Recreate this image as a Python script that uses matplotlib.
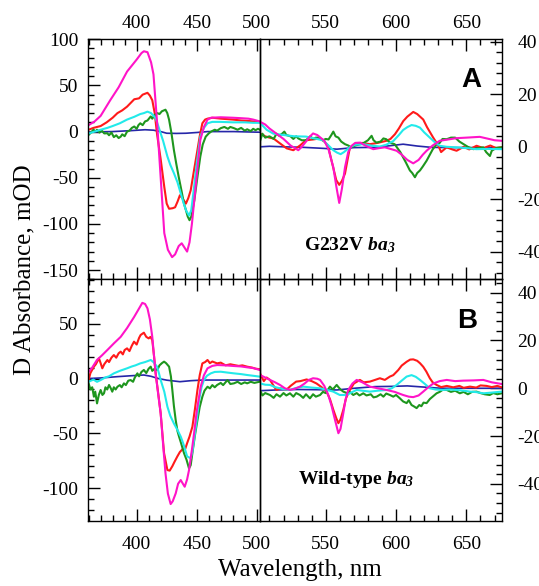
import matplotlib
matplotlib.use('Agg')
import matplotlib.pyplot as plt
from matplotlib.ticker import MultipleLocator

plt.rcParams['font.family'] = 'Liberation Serif'
plt.rcParams['axes.unicode_minus'] = False
plt.rcParams['mathtext.fontset'] = 'custom'
plt.rcParams['mathtext.rm'] = 'Liberation Serif'
plt.rcParams['mathtext.it'] = 'Liberation Serif:italic'
plt.rcParams['mathtext.bf'] = 'Liberation Serif:bold'
plt.rcParams['mathtext.bfit'] = 'Liberation Serif:italic:bold'

# colours of the five traces
c_mag = '#ff14c8'
c_red = '#ff1a1a'
c_cyan = '#22eaea'
c_green = '#1e961e'
c_blue = '#2626a8'

# ---------------- panel A (G232V), Soret region, left axis (mOD) ----------------
magenta_A_soret = [(360,7),(365,11),(370,17),(378,34),(385,48),(392,65),(400,78),(404,85),(406,87),(409,86),
                   (412,75),(414,62),(417,10),(420,-50),(423,-110),(426,-128),(429.5,-136),(432,-133),(435,-124),
                   (437.5,-121),(440,-126),(442,-130),(444,-120),(446,-100),(448,-74),(451,-35),(453,-9),(456,5),
                   (459,13),(462,15),(470,15.5),(480,15),(487,14.5),(493,14),(497,13),(502.5,11)]
red_A_soret = [(360,2),(364,4),(370,6),(375,10),(380,15),(384,20),(388,23),(392,27),(395,31),(398,35),(402,36),
               (405,40),(409,42),(411,39),(413,34),(415,20),(417,-3),(420,-30),(423,-60),(425,-78),(427,-83.6),
               (430,-83),(432,-82),(434,-76),(436,-69),(438,-72),(441,-78),(443,-72),(445,-63.6),(448,-40),
               (450.6,-20),(452.5,-5),(454.7,9),(457,13),(459,14),(463,15),(470,14),(480,13),(487,12),(493,11.5),
               (497,11),(502.5,10)]
cyan_A_soret = [(360,-2),(365,0),(370,2),(375.6,4),(380,6),(386,9),(392,13),(398,16),(403,19),(406,20),(409,21.6),
                (412,20),(415.8,14.6),(418,6),(420,-2),(422,-10),(425.6,-27),(428,-36),(431,-45),(434,-55),
                (436.7,-67),(439,-77),(441,-85),(443.6,-91),(445.5,-85),(447.8,-60),(450,-35),(453,-5.5),(456,4),
                (459,9),(463,10.5),(470,10.5),(480,10),(490,10),(497,9.5),(502.5,9.5)]
green_A_soret = [(360,-3.6),(362,-1),(364,2),(366,0),(367,2),(369,-1),(371,1),(373,-2),(375.6,-1.8),(377,-4),
                 (379,-1),(381,-6),(383,-4),(385,-7),(386.7,-5.5),(388,-3),(390,-5),(392,0),(394,1),(396,4),
                 (398,5.5),(400,3),(401.5,7),(403,9),(405,7),(407,11),(409,12),(411.7,16.4),(413,14),(415,18),
                 (417.2,20),(419,19),(421,22),(424,23.7),(425.5,20),(427,12.8),(429,-2),(431,-20),(433,-35),
                 (435,-49),(437,-62),(439.4,-78),(441,-85),(442.5,-92),(444,-96),(445.5,-92),(448,-74.5),
                 (450.5,-50),(453,-27),(455,-14),(457.5,-5.5),(460,-2),(462,0),(465,2),(467,1),(470,3.7),(473,5),
                 (476,3),(478,5),(481,3.7),(484,2),(487,4),(490,1),(492,2.5),(495,0.5),(497,3),(499,1.5),(501,3),
                 (502.5,2)]
blue_A_soret = [(360,-0.5),(380,0),(395,1),(407,2),(414,1.5),(420,0),(425,-1.8),(433,-2),(441,-1.8),(450,-1),
                (459,0),(470,0),(481,0),(490,-0.3),(502.5,-0.7)]

# ---------------- panel A, visible region, right axis ----------------
magenta_A_vis = [(503.5,9.5),(507,8.5),(510,7),(515,5),(520,3),(525,0.5),(530.5,-1.3),(533,0),(536,2),(538,3.5),
                 (541,5.1),(544,4.5),(549,2.3),(552,-1),(555.4,-7.8),(557.5,-15),(559.6,-21.4),(561.5,-16),
                 (563.7,-7.8),(566,-2),(568.4,0.4),(571,1.5),(574.7,1.6),(578,0.5),(583.8,-0.9),(588,-0.5),
                 (592,-0.2),(596,-0.8),(600.4,-1.5),(604,-3),(608,-5),(612.2,-6.3),(616,-5),(619,-3),(621.7,-1.5),
                 (626,0.5),(631,2.3),(637,2.8),(643,3.3),(650,3.5),(659.5,3.8),(666,3),(670,2.5),(675,2.3)]
red_A_vis = [(503.5,5),(507,4),(510,3.5),(512.8,3.2),(517,1.5),(522.3,-0.6),(527,-1.3),(531.7,0.5),(536,2.5),
             (541,2.8),(545.7,3.2),(549,2),(551.6,0.5),(554,-5),(557.5,-12.7),(559.6,-14.5),(561.5,-13),
             (563.7,-10.2),(565.5,-5),(567.2,-0.2),(572,1),(576,1.5),(581.4,1),(587,1.5),(593.3,2.3),(596,3),
             (599.2,4.8),(602,7),(605.1,9.8),(608,11.5),(612.2,13.3),(615,12.5),(619.3,10.4),(622,7.5),
             (626.4,3.5),(630,0.5),(632,-2),(635.9,-0.2),(640,-1),(643,-1.5),(648,0),(652,-1),(657.2,0.4),
             (662,-0.5),(667,0.5),(671,-0.5),(675,-0.2)]
cyan_A_vis = [(503.5,9),(508,6.5),(512.8,5),(520,4.5),(528,4),(536,3.9),(542,3.2),(548,2.5),(552,0.5),
              (555.4,-1.3),(558,-2.2),(560.6,-2.8),(563,-2),(567,-0.2),(571,0.8),(576.7,1),(582,0.5),(588.5,0.1),
              (593,0.8),(598,2.2),(602,4.5),(605,6.4),(608,7.5),(611,8.3),(614,8),(617,7.3),(620,5.5),(624,3.5),
              (627,2),(631,0.4),(636,0),(643,-0.2),(650,-0.5),(657,-0.9),(665,-0.8),(675,-0.9)]
green_A_vis = [(503.5,2.5),(505,5),(507,3.5),(510,4),(513,3),(515,5),(517,4.2),(519,5),(520.6,5.8),(522,4.5),
               (525,4),(527,3),(529,4),(530.5,3.2),(533,2.5),(536,2.5),(539,4),(541,3),(543,3.5),(545,3.5),
               (548,2.5),(550,3),(552,2.8),(554,4.5),(555.4,5.8),(557,4),(559,3.5),(561,2),(563.7,1),(566,0.5),
               (568,-0.2),(571,0.5),(574.7,1),(577,1.5),(580,2.5),(582.6,4.2),(584,2.5),(586,1.6),(589,2),
               (591,3.2),(593,2.9),(596,1.5),(599,1),(601,-0.5),(603,-2),(605,-4),(607,-6),(609.8,-9),(611.5,-10),
               (613.4,-11.6),(615,-10),(617,-9),(619,-7.5),(621.7,-5.3),(624,-3),(626,-1),(628.8,1),(631,1.5),
               (633,3),(636,2.9),(639,3.5),(642,3.5),(645,2),(648,1),(651,0),(655,-0.9),(658,-0.5),(662,-0.2),
               (664,-2),(666.7,-3.5),(668,-1.5),(671,-0.5),(675,-0.2)]
blue_A_vis = [(503.5,0),(510,0.2),(520,0),(534,-0.2),(545,-0.5),(558,-0.9),(570,-0.3),(585,-0.2),(597,0.5),
              (605,1),(615,0.3),(625,-0.2),(640,-0.3),(655,-0.3),(675,-0.5)]

# ---------------- panel B (wild-type), Soret region, left axis ----------------
magenta_B_soret = [(360,6),(363,10),(367,17),(371,21),(375.6,26),(381,32),(386.7,38),(392,46),(397.8,56),(401,62),
                   (404.7,69),(407,68),(409,64),(411,54),(413,38),(414.5,20),(415.8,4.7),(418,-15),(420,-32),
                   (422,-60),(424,-86.5),(426,-105),(428.3,-114.5),(430,-112),(432.5,-104.8),(434.5,-96),
                   (436.7,-92.6),(438.5,-96),(440,-98.7),(442,-92),(443.6,-83.5),(446,-65),(447.8,-50),(450,-30),
                   (453.3,-7.5),(456,3),(459,9.3),(463,11.5),(467,12.3),(474,12),(481,11.4),(487,11),(492,10.2),
                   (497,9.5),(502.5,7.8)]
red_B_soret = [(360,-1.4),(361.5,5),(363,8),(364.4,10.8),(366,13),(368.6,18.4),(370,14),(371.4,9.3),(373,13),
               (375.6,16.9),(377,15),(379,19),(381,21.4),(383,19),(385,23),(386.7,24.5),(388.5,22),(390,26),
               (392,27.5),(394,25),(396,30),(397.8,33.6),(400,31),(402,37),(403.3,39.7),(406,41.8),(408,38),
               (410,36.6),(411.5,38),(413,35),(414.5,20),(415.8,4.7),(418,-14),(420,-31.8),(422.8,-68),
               (425.6,-83.5),(427.5,-84),(429.7,-80),(431.5,-76),(433.9,-71),(436,-67),(438.9,-63.7),(440.5,-64),
               (442,-59),(444,-53),(446.4,-44),(448.5,-28),(450.6,-10.5),(452.5,3),(454.7,13.8),(457,15),
               (459,16.9),(461,14),(463,15.5),(467,13.8),(470,14.5),(474,12),(478,13),(481,12.3),(485,11.5),
               (488,12),(492,10.8),(496,10),(499,9),(502.5,8.4)]
cyan_B_soret = [(360,-2.9),(364,-1),(367,-3),(370,-1.4),(374,1),(377,2),(381,4.7),(386,7),(392,9.3),(396,11),
                (399,12),(403,13.8),(407,15),(411.7,16.9),(414,15),(417,10.8),(418.5,5),(420,-1.4),(423,-12),
                (425.6,-25.7),(428,-34),(431,-41),(434,-47),(436.7,-53),(439,-60),(442,-71),(445,-72.8),
                (446.5,-66),(447.8,-56),(450,-38),(452,-19.6),(454,-8),(456,-1.4),(458.5,2.5),(461.7,4.7),(465,6),
                (470,6.2),(475,5.5),(481,4.7),(487,4),(492,3.2),(497,2.5),(502.5,1.7)]
green_B_soret = [(360,-4.4),(361.5,-10),(363,-8),(364.4,-16.6),(365.5,-12),(367,-22.7),(368.5,-15),(370,-10.5),
                 (371.5,-15),(372.8,-13.5),(374,-8),(375.5,-10),(377,-5.9),(378.5,-9),(379.7,-12),(381,-8),
                 (382.5,-10),(384,-7.5),(386,-6),(387.5,-8),(389.4,-4.4),(391,-6),(393,-2),(395,-1.4),(397,-3),
                 (398.5,1),(400.6,4.7),(402,2),(404,6),(406,7.8),(408,5),(410,9),(411.7,10.8),(413,7),(415,9),
                 (417.2,7.8),(419,12),(421,14),(422.8,15.4),(424.5,14),(427,10.8),(428.5,2),(429.7,-10.5),
                 (431,-25),(432.5,-38),(434,-48),(435.3,-53),(437,-59),(439.4,-68),(441.5,-74),(443.6,-82),
                 (445,-79),(446.4,-68),(448.5,-52),(450.6,-38),(452.5,-26),(454.7,-16.6),(456.5,-11),(459,-7.5),
                 (461,-9),(463,-6),(465,-8),(467,-5.9),(470,-4),(472,-6),(475.6,-1.4),(478,-5),(481,-4.4),(484,-3),
                 (487,-5),(490,-3.5),(492,-4.4),(495,-3),(498,-4),(502.5,-2.9)]
blue_B_soret = [(360,0),(370,0.5),(384,1.7),(395,2.5),(406,3.2),(412,2),(418,0),(425,-1.5),(436,-2.9),(445,-2),
                (455,-1.4),(470,-1.4),(485,-1.4),(502.5,-1.4)]

# ---------------- panel B, visible region, right axis ----------------
magenta_B_vis = [(503.5,5.5),(507,4.5),(510.4,3.5),(514,2.5),(517.5,1.4),(521,0),(524.6,-0.7),(528,-0.2),
                 (531.7,0.7),(535,2),(538,3.5),(541,4.2),(544,4),(546,3.5),(549,1),(551.8,-2.8),(554,-7),
                 (556.6,-13.2),(559,-18.8),(560.5,-17),(562.5,-10.4),(564,-5),(566,-0.7),(569,2),(572,3.5),
                 (576,2.5),(581.4,0.7),(587,0),(593.3,-0.7),(599,-1.5),(605,-2.8),(609,-3.5),(612.2,-3.7),(616,-3),
                 (619.3,-1.4),(623,0.5),(626.4,2),(631,3),(636,3.5),(642,3),(647.7,3.2),(655,3.3),(662,3.5),
                 (668,2.5),(675,1.8)]
red_B_vis = [(503.5,6),(506,3),(508,4.5),(510.4,3.5),(513,1),(515,-0.7),(518,0),(522,-0.7),(525,1),(529,2.8),
             (532,3),(536.4,3.7),(540,3),(543.5,2),(547,0.5),(550.6,-1.4),(553,-4.5),(555.4,-9),(557.5,-12.5),
             (559,-14.6),(560.5,-13),(562.5,-9),(564.5,-4),(567.2,-0.7),(570,2),(574.3,3.5),(577,2.5),(581.4,2.8),
             (585,3.5),(588.5,4.2),(592,3.5),(595.6,4.9),(598,5.5),(601.5,7.6),(604,9.5),(607.5,11.1),(610,12),
             (612.2,12.1),(615,11.5),(617,10.5),(619.3,9),(621.5,7),(624,4.2),(626,2.5),(628.8,1.4),(632,0.5),
             (636,1),(640.6,0.4),(645,1),(648,0.2),(652.5,0.7),(657,0.3),(660,1.2),(664.3,1),(668,0.5),(672,1),
             (675,0.4)]
cyan_B_vis = [(503.5,2),(507,1.5),(510.4,1.4),(514,0.5),(517.5,0),(521,-0.5),(524.6,-0.7),(528,0),(534,0.7),
              (540,0.3),(546,0),(551,-0.7),(555.4,-1.4),(558,-2.2),(560,-2.8),(565,-2.8),(568,-1.8),(572,-0.7),
              (576,-1),(581.4,-1.4),(587,-1),(593.3,-0.7),(597,0),(600.4,1.4),(604,3.2),(607.5,4.9),(611,5.5),
              (614,4.8),(617,3.5),(620.5,1.8),(624,0),(628,-0.5),(633.5,-0.7),(638,-0.5),(643,-0.7),(648,-1),
              (652.5,-1.4),(657,-1.6),(662,-2.1),(668,-1.8),(675,-1.4)]
green_B_vis = [(503.5,-1),(505,-3),(507,-2),(510.4,-2.8),(513,-4),(515,-2.5),(517.5,-3.5),(520,-2),(522,-3),
               (524.6,-2.1),(527,-3.5),(529,-2),(531.7,-2.8),(534,-4),(536,-2.5),(538.8,-4.2),(541,-2.5),
               (543,-3.5),(546,-2.8),(548,-1.5),(550,-2),(553,0.7),(555,-0.5),(557.8,1.4),(559,0.5),(560.5,-0.5),
               (562.5,-1.4),(565,-2),(567,-1.5),(569.6,-2.8),(572,-2),(574,-3),(576.7,-2.1),(579,-3),(582,-2.5),
               (584,-3.8),(586.2,-3.5),(589,-2.5),(591,-3.5),(593,-2.2),(595.6,-2.8),(598,-3.5),(600,-2.8),
               (602.7,-4.2),(605,-5.5),(607.5,-6.2),(609,-5),(611,-7),(612.5,-7.5),(614.6,-8.3),(616.5,-7),
               (618,-7.5),(619.5,-6),(621.7,-6.2),(624,-4.5),(626,-3.5),(628.8,-2.1),(631,-1.5),(633,-0.7),
               (636,-0.7),(639,-1.5),(642,-1),(645.3,-2.1),(648,-1.5),(651,-2.5),(654,-1.5),(657.2,-1.4),(660,-2),
               (663,-2.5),(666.6,-2.8),(669,-2),(672,-2.5),(675,-2.1)]
blue_B_vis = [(503.5,-1),(515,-0.7),(530,-0.5),(545,-0.6),(558,-0.7),(570,0),(585,0.7),(597,0.8),(608,1),
              (620,0.5),(632,0),(645,0),(660,0),(675,0)]


def draw(ax, traces):
    for pts, col in traces:
        x, y = zip(*pts)
        ax.plot(x, y, color=col, lw=1.5 if col != c_blue else 1.2)


def style(ax, side, top_row):
    ax.tick_params(which='both', direction='in', top=True, bottom=True, width=1,
                   labelsize=14, labeltop=top_row, labelbottom=not top_row)
    ax.tick_params(which='major', length=8.5)
    ax.tick_params(which='minor', length=4.3)
    ax.tick_params(axis='x', which='both', pad=5 if top_row else 11)
    ax.xaxis.set_major_locator(MultipleLocator(50))
    ax.xaxis.set_minor_locator(MultipleLocator(10))
    if side == 'left':
        ax.tick_params(axis='y', which='both', left=True, right=False, labelleft=True, labelright=False, pad=7)
        ax.yaxis.set_major_locator(MultipleLocator(50))
        ax.yaxis.set_minor_locator(MultipleLocator(10))
    else:
        ax.tick_params(axis='y', which='both', left=False, right=True, labelleft=False, labelright=True, pad=11)
        ax.yaxis.set_major_locator(MultipleLocator(20))
        ax.yaxis.set_minor_locator(MultipleLocator(4))
        ax.patch.set_alpha(0)
    for s in ax.spines.values():
        s.set_linewidth(1)
        s.set_color('black')


fig = plt.figure(figsize=(5.39, 5.86), dpi=100)
axAL = fig.add_axes([0.1633, 0.5234, 0.3191, 0.4096])
axAR = fig.add_axes([0.4824, 0.5234, 0.449, 0.4096])
axBL = fig.add_axes([0.1633, 0.1114, 0.3191, 0.412])
axBR = fig.add_axes([0.4824, 0.1114, 0.449, 0.412])

draw(axAL, [(blue_A_soret, c_blue), (red_A_soret, c_red), (green_A_soret, c_green),
            (cyan_A_soret, c_cyan), (magenta_A_soret, c_mag)])
draw(axAR, [(blue_A_vis, c_blue), (red_A_vis, c_red), (green_A_vis, c_green),
            (cyan_A_vis, c_cyan), (magenta_A_vis, c_mag)])
draw(axBL, [(blue_B_soret, c_blue), (red_B_soret, c_red), (green_B_soret, c_green),
            (cyan_B_soret, c_cyan), (magenta_B_soret, c_mag)])
draw(axBR, [(blue_B_vis, c_blue), (red_B_vis, c_red), (green_B_vis, c_green),
            (cyan_B_vis, c_cyan), (magenta_B_vis, c_mag)])

for ax in (axAL, axBL):
    ax.set_xlim(359.5, 502.7)
for ax in (axAR, axBR):
    ax.set_xlim(503.3, 675.3)
axAL.set_ylim(-160, 100)
axAR.set_ylim(-50.5, 41)
axBL.set_ylim(-129.7, 90.5)
axBR.set_ylim(-55.4, 45.6)

style(axAL, 'left', True)
style(axAR, 'right', True)
style(axBL, 'left', False)
style(axBR, 'right', False)

axAR.text(0.872, 0.83, 'A', transform=axAR.transAxes, ha='center', va='center',
          fontsize=20, fontweight='bold', family='Liberation Sans')
axBR.text(0.855, 0.827, 'B', transform=axBR.transAxes, ha='center', va='center',
          fontsize=20, fontweight='bold', family='Liberation Sans')
axAR.text(0.372, 0.143, r'G232V $\mathbfit{ba}_{\mathbfit{3}}$', transform=axAR.transAxes,
          ha='center', va='center', fontsize=14, fontweight='bold')
axBR.text(0.397, 0.169, r'Wild-type $\mathbfit{ba}_{\mathbfit{3}}$', transform=axBR.transAxes,
          ha='center', va='center', fontsize=14, fontweight='bold')

fig.text(24 / 539, 1 - 270 / 586, 'D Absorbance, mOD', rotation=90, ha='center', va='center', fontsize=18)
fig.text(300 / 539, 1 - 570 / 586, 'Wavelength, nm', ha='center', va='center', fontsize=18)

fig.savefig('out.png', dpi=100)
